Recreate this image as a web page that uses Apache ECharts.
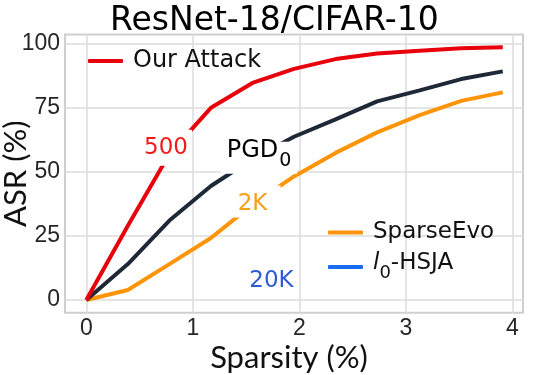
<!DOCTYPE html>
<html><head><meta charset="utf-8">
<script src="https://cdn.jsdelivr.net/npm/echarts@6/dist/echarts.min.js"></script>
<style>html,body{margin:0;padding:0;background:#fff}#c{width:534px;height:375px}</style>
</head><body><div id="c"></div>
<script>
// ---- data ----
const sparsity   = [0, 0.39, 0.78, 1.17, 1.56, 1.95, 2.34, 2.73, 3.13, 3.52, 3.91];
const ourAttack  = [0, 29, 57, 75, 84.7, 90.2, 94.0, 96.2, 97.3, 98.2, 98.6];
const pgd0       = [0, 14, 31, 44.5, 55, 63.7, 70.5, 77.5, 81.8, 86.2, 89.2];
const sparseEvo  = [0, 3.9, 14, 24.2, 37.2, 48.2, 57.4, 65.4, 72.1, 77.7, 81];
const hsja       = [];
const xTicks = [0, 1, 2, 3, 4];
const yTicks = [0, 25, 50, 75, 100];

const pairs = ys => ys.map((y, i) => [sparsity[i], y]);
const near = (v, arr) => arr.find(t => Math.abs(v - t) < 1e-6);
const gridCol = '#dddddd';
const none = 'rgba(0,0,0,0)';
const xSplitColors = Array.from({length: 10}, (_, i) => i === 2 ? gridCol : none);
const ySplitColors = Array.from({length: 5}, (_, i) => i === 1 ? gridCol : none);
const calib = 'Lato';
const wide = 'DejaVu Sans';

const chart = echarts.init(document.getElementById('c'));
chart.setOption({
  animation: false,
  title: {
    text: 'ResNet-18/CIFAR-10', left: 110, top: 0, padding: [5, 0, 0, 0],
    textStyle: {fontFamily: wide, fontSize: 33, fontWeight: 'normal', color: '#000'}
  },
  grid: {left: 65, right: 11, top: 34.5, bottom: 62.2, show: true, borderColor: '#cfcfcf', borderWidth: 2,
         containLabel: false, outerBoundsMode: 'none'},
  xAxis: {
    type: 'value', min: -0.2, max: 4.1, interval: 0.1,
    axisLine: {show: false}, axisTick: {show: false},
    splitLine: {show: true, lineStyle: {color: xSplitColors, width: 1.5}},
    axisLabel: {
      formatter: v => { const t = near(v, xTicks); return t === undefined ? '' : String(t); },
      fontFamily: 'Liberation Sans', fontSize: 23, color: '#262626', margin: 4
    },
    name: 'Sparsity (%)', nameLocation: 'middle', nameGap: 30, nameMoveOverlap: false,
    nameTextStyle: {fontFamily: calib, fontSize: 31, color: '#111', padding: [0, 10, 0, 0]}
  },
  yAxis: {
    type: 'value', min: -5, max: 103.6, interval: 5,
    axisLine: {show: false}, axisTick: {show: false},
    splitLine: {show: true, lineStyle: {color: ySplitColors, width: 1.5}},
    axisLabel: {
      formatter: v => { const t = near(v, yTicks); return t === undefined ? '' : String(t); },
      fontFamily: 'Liberation Sans', fontSize: 23, color: '#262626', margin: 5
    },
    name: 'ASR (%)', nameLocation: 'middle', nameGap: 34, nameMoveOverlap: false,
    nameTextStyle: {fontFamily: calib, fontSize: 31, color: '#111'}
  },
  legend: [
    {
      data: ['Our Attack'], left: 83, top: 44, itemWidth: 35, itemHeight: 4, icon: 'roundRect',
      selectedMode: false,
      textStyle: {fontFamily: wide, fontSize: 24, color: '#111', padding: [0, 0, 0, 5]}
    },
    {
      data: ['SparseEvo', 'l0-HSJA'], orient: 'vertical', left: 323, top: 216, itemGap: 8,
      itemWidth: 35, itemHeight: 4, icon: 'roundRect', selectedMode: false,
      formatter: n => n === 'l0-HSJA' ? '{it|l}{sub|0}{n|-HSJA}' : n,
      textStyle: {
        fontFamily: wide, fontSize: 23, color: '#111', padding: [0, 0, 0, 5],
        rich: {
          it: {fontFamily: wide, fontSize: 23, fontStyle: 'italic', color: '#111', verticalAlign: 'top'},
          sub: {fontFamily: wide, fontSize: 18, color: '#111', padding: [12, 0, 0, 0], verticalAlign: 'top'},
          n: {fontFamily: wide, fontSize: 23, color: '#111', verticalAlign: 'top'}
        }
      }
    }
  ],
  series: [
    {name: 'l0-HSJA', type: 'line', data: pairs(hsja), symbol: 'none',
     itemStyle: {color: '#1b6cf5'}, lineStyle: {color: '#1b6cf5', width: 4}},
    {name: 'SparseEvo', type: 'line', data: pairs(sparseEvo), symbol: 'none',
     itemStyle: {color: '#ff9408'}, lineStyle: {color: '#ff9408', width: 4}},
    {name: 'PGD0', type: 'line', data: pairs(pgd0), symbol: 'none',
     itemStyle: {color: '#1e2836'}, lineStyle: {color: '#1e2836', width: 4}},
    {name: 'Our Attack', type: 'line', data: pairs(ourAttack), symbol: 'none',
     itemStyle: {color: '#e8000b'}, lineStyle: {color: '#e8000b', width: 4}},
    {
      name: 'annotations', type: 'scatter', data: [], silent: true,
      markPoint: {
        silent: true, animation: false,
        data: [
          {coord: [0.748, 59.45], symbol: 'rect', symbolSize: [52, 36], itemStyle: {color: '#fff'},
           label: {show: true, position: 'inside', formatter: '500', color: '#ee1c1c', fontFamily: wide, fontSize: 23}},
          {coord: [1.622, 55.5], symbol: 'rect', symbolSize: [76, 32], itemStyle: {color: '#fff'},
           label: {show: true, position: 'inside', formatter: '{a|PGD}{b|0}', offset: [0, -3],
             rich: {
               a: {fontFamily: wide, fontSize: 24, color: '#000', verticalAlign: 'top'},
               b: {fontFamily: wide, fontSize: 19, color: '#000', padding: [13, 0, 0, 1], verticalAlign: 'top'}
             }}},
          {coord: [1.561, 38.4], symbol: 'rect', symbolSize: [56, 32], itemStyle: {color: '#fff'},
           label: {show: true, position: 'inside', formatter: '2K', color: '#f5a01a', fontFamily: wide, fontSize: 23, offset: [0, 2]}},
          {coord: [1.739, 7.5], symbol: 'rect', symbolSize: [48, 26], itemStyle: {color: '#fff'},
           label: {show: true, position: 'inside', formatter: '20K', color: '#2d5bd6', fontFamily: wide, fontSize: 23}}
        ]
      }
    }
  ]
});
</script>
</body></html>
